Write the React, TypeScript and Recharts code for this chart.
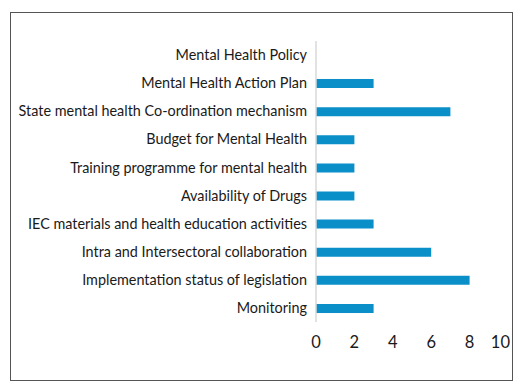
import { BarChart, Bar, XAxis, YAxis } from "recharts";

const categories = [
  "Mental Health Policy",
  "Mental Health Action Plan",
  "State mental health Co-ordination mechanism",
  "Budget for Mental Health",
  "Training programme for mental health",
  "Availability of Drugs",
  "IEC materials and health education activities",
  "Intra and Intersectoral collaboration",
  "Implementation status of legislation",
  "Monitoring",
];
const values = [0, 3, 7, 2, 2, 2, 3, 6, 8, 3];
const xTicks = [0, 2, 4, 6, 8, 10];

const data = categories.map((name, i) => ({ name, value: values[i] }));

const FONT = "Lato, 'Open Sans', sans-serif";

// last tick label sits inside the plot edge, like the original
function XTick({ x, y, payload }: { x?: number; y?: number; payload?: { value: number } }) {
  if (x == null || y == null || !payload) return null;
  const last = payload.value === 10;
  return (
    <text
      x={last ? x + 2 : x}
      y={y}
      dy={14}
      textAnchor={last ? "end" : "middle"}
      fill="#1a1a1a"
      fontSize={16.5}
      fontFamily={FONT}
    >
      {payload.value}
    </text>
  );
}

export default function App() {
  return (
    <div style={{ position: "absolute", left: 0, top: 0, width: 531, height: 391, background: "#fff" }}>
      <div
        style={{
          position: "absolute",
          left: 10,
          top: 12,
          width: 501,
          height: 367,
          border: "1.5px solid #555",
        }}
      />
      <div style={{ position: "absolute", left: 0, top: 0 }}>
        <BarChart
          width={531}
          height={391}
          data={data}
          layout="vertical"
          margin={{ top: 41, right: 23, bottom: 39, left: 0 }}
        >
          <XAxis
            type="number"
            domain={[0, 10]}
            ticks={xTicks}
            axisLine={false}
            tickLine={false}
            height={30}
            tick={<XTick />}
            tickMargin={6}
          />
          <YAxis
            type="category"
            dataKey="name"
            width={316}
            axisLine={{ stroke: "#d9d9d9", strokeWidth: 1.5 }}
            tickLine={false}
            tickMargin={3}
            interval={0}
            tick={{ fill: "#1a1a1a", fontSize: 14.4, fontFamily: FONT }}
          />
          <Bar dataKey="value" fill="#0a8fc9" barSize={9} isAnimationActive={false} />
        </BarChart>
      </div>
    </div>
  );
}
